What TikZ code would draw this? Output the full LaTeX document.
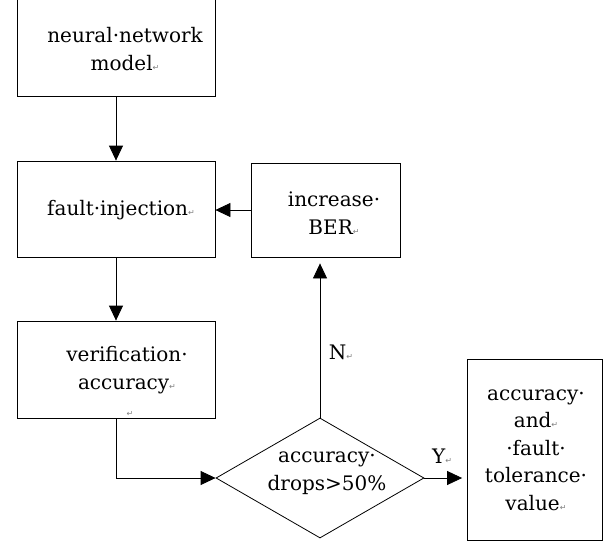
\documentclass[tikz,border=0pt]{standalone}
\usepackage{fontspec}
\setmainfont{DejaVu Serif}
\newfontfamily\symfont{DejaVu Sans}
\usetikzlibrary{shapes.geometric,arrows.meta}
\newcommand\retm{{\fontsize{8}{8}\selectfont\color{gray}\symfont ↵}}
\tikzset{
  box/.style={draw, line width=0.8pt, inner sep=0pt, align=center},
  txt/.style={inner sep=0pt, align=center, font=\fontsize{20}{27.5}\selectfont},
  arr/.style={line width=0.8pt, -{Triangle[length=15pt,width=14pt]}},
}
\begin{document}
\begin{tikzpicture}[x=1pt,y=-1pt]
\clip (0,0) rectangle (611,544);
\useasboundingbox (0,0) rectangle (611,544);
% boxes
\node[box, minimum width=198pt, minimum height=100pt] (nn) at (116,46) {};
\node[txt] (nnt) at (125,49) {neural·network\\model\retm};
\node[box, minimum width=198pt, minimum height=96pt] (fi) at (116,209) {};
\node[txt] (fit) at (121,210) {fault·injection\retm};
\node[box, minimum width=149pt, minimum height=94pt] (ib) at (325.5,210) {};
\node[txt] (ibt) at (334,213) {increase·\\BER\retm};
\node[box, minimum width=198pt, minimum height=97pt] (va) at (116,369.5) {};
\node[txt] (vat) at (127,370) {verification·\\accuracy\retm};
\node[inner sep=0pt] (vam) at (130,414) {\retm};
\node[diamond, draw, line width=0.8pt, inner sep=0pt, minimum width=208pt, minimum height=120pt] (dec) at (320,478) {};
\node[txt] (dect) at (327,473) {accuracy·\\drops>50\%};
\node[box, minimum width=135pt, minimum height=181pt] (res) at (535,449.5) {};
\node[txt] (rest) at (536,450) {accuracy·\\and\retm\\·fault·\\tolerance·\\value\retm};
% labels
\node[txt] (nl) at (341,352) {N\retm};
\node[txt] (yl) at (442,456) {Y\retm};
% connectors
\draw[arr] (nn) -- (fi);
\draw[arr] (ib.west) -- (fi.east |- ib.west);
\draw[arr] (fi) -- (va);
\draw[arr] (va.south) |- (dec.west);
\draw[arr, shorten >=6pt] (dec.north) -- (ib.south -| dec.north);
\draw[arr, shorten >=5pt] (dec.east) -- (res.west |- dec.east);
\end{tikzpicture}
\end{document}
